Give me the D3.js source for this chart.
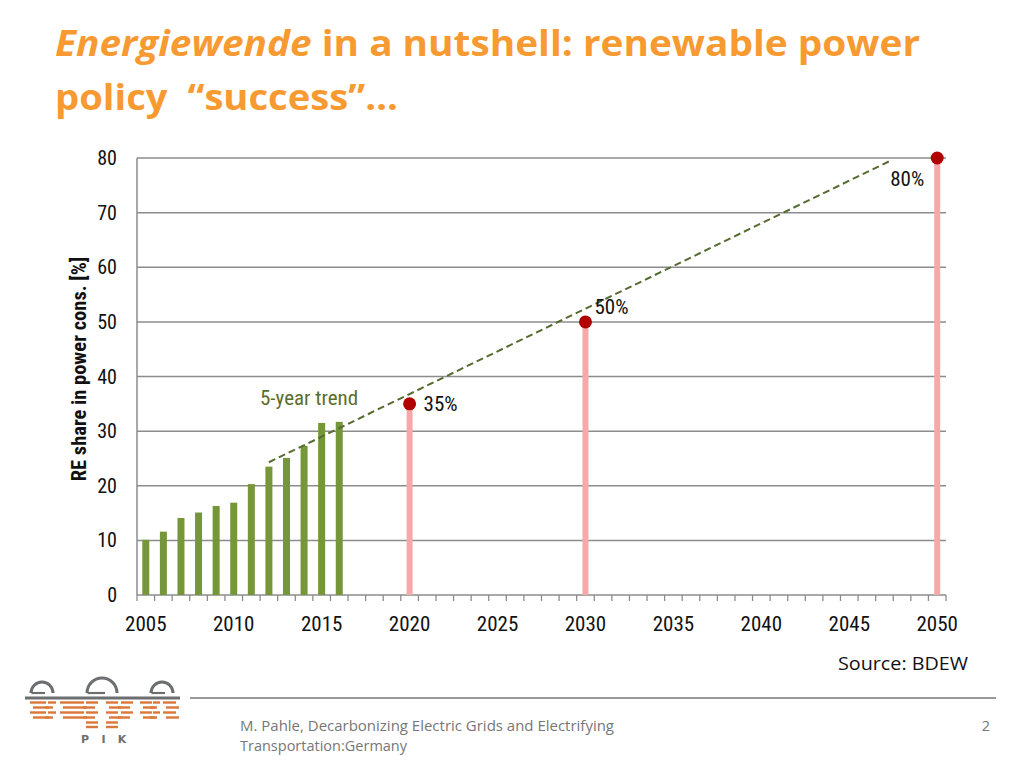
<!DOCTYPE html>
<html><head><meta charset="utf-8">
<script src="https://cdn.jsdelivr.net/npm/d3@7"></script>
<style>
html,body{margin:0;padding:0;background:#fff;}
svg{display:block;}
</style></head>
<body>
<script>
// ---- data ----
const years = [2005,2006,2007,2008,2009,2010,2011,2012,2013,2014,2015,2016];
const shares = [10.1,11.6,14.1,15.1,16.3,16.9,20.3,23.5,25.1,27.3,31.5,31.7];
const targetYears = [2020,2030,2050];
const targetValues = [35,50,80];
const targetLabels = ["35%","50%","80%"];
const trendYears = [2012,2047.4];
const trendValues = [24.3,79.6];
const xTickLabels = [2005,2010,2015,2020,2025,2030,2035,2040,2045,2050];
const yTickLabels = [0,10,20,30,40,50,60,70,80];

const W=1024,H=768;
const svg=d3.select("body").append("svg").attr("width",W).attr("height",H);
const cond = "'Liberation Sans Narrow','Roboto Condensed','DejaVu Sans Condensed','Roboto',sans-serif";
const body = "'Open Sans',sans-serif";

const x=d3.scaleLinear().domain([2004.5,2050.5]).range([137,946]);
const y=d3.scaleLinear().domain([0,80]).range([595,158]);

// title
const t1=svg.append("text").attr("x",55).attr("y",56).attr("fill","#f79a32")
  .attr("font-family",body).attr("font-weight","bold").attr("font-size",36)
  .attr("textLength",865).attr("lengthAdjust","spacingAndGlyphs");
t1.append("tspan").attr("font-style","italic").text("Energiewende");
t1.append("tspan").text(" in a nutshell: renewable power");
svg.append("text").attr("x",55).attr("y",110).attr("fill","#f79a32")
  .attr("font-family",body).attr("font-weight","bold").attr("font-size",36)
  .style("white-space","pre")
  .attr("textLength",343).attr("lengthAdjust","spacingAndGlyphs")
  .text("policy  \u201csuccess\u201d\u2026");

// gridlines
svg.append("g").selectAll("line").data(yTickLabels).join("line")
  .attr("x1",137).attr("x2",946).attr("y1",d=>y(d)).attr("y2",d=>y(d))
  .attr("stroke","#8c8c8c").attr("stroke-width",1.5);
// y axis line
svg.append("line").attr("x1",137).attr("x2",137).attr("y1",y(80)).attr("y2",y(0))
  .attr("stroke","#8c8c8c").attr("stroke-width",1.5);
// x minor ticks
svg.append("g").selectAll("line").data(d3.range(2004.5,2051,1)).join("line")
  .attr("x1",d=>x(d)).attr("x2",d=>x(d)).attr("y1",y(0)).attr("y2",y(0)+6)
  .attr("stroke","#8c8c8c").attr("stroke-width",1.3);

// y tick labels
svg.append("g").selectAll("text").data(yTickLabels).join("text")
  .attr("x",117).attr("y",d=>y(d)).attr("dy","0.35em").attr("text-anchor","end")
  .attr("font-family",cond).attr("font-size",20).attr("fill","#111").text(d=>d);
// x tick labels
svg.append("g").selectAll("text").data(xTickLabels).join("text")
  .attr("x",d=>x(d)).attr("y",631).attr("text-anchor","middle")
  .attr("font-family",cond).attr("font-size",21).attr("fill","#111").text(d=>d);

// y axis title
svg.append("text").attr("transform","translate(86,369) rotate(-90)").attr("text-anchor","middle")
  .attr("font-family",cond).attr("font-weight","bold").attr("font-size",20.5).attr("fill","#111")
  .text("RE share in power cons. [%]");

// historical bars
const bw=7;
svg.append("g").selectAll("rect").data(years).join("rect")
  .attr("x",d=>x(d)-bw/2).attr("width",bw)
  .attr("y",(d,i)=>y(shares[i])).attr("height",(d,i)=>y(0)-y(shares[i]))
  .attr("fill","#76963a");

// target bars
svg.append("g").selectAll("rect").data(targetYears).join("rect")
  .attr("x",d=>x(d)-3).attr("width",6)
  .attr("y",(d,i)=>y(targetValues[i])).attr("height",(d,i)=>y(0)-y(targetValues[i]))
  .attr("fill","#f7a8a8");

// trend line
svg.append("line").attr("x1",x(trendYears[0])).attr("y1",y(trendValues[0]))
  .attr("x2",x(trendYears[1])).attr("y2",y(trendValues[1]))
  .attr("stroke","#556b2f").attr("stroke-width",2).attr("stroke-dasharray","7,4");

// target dots
svg.append("g").selectAll("circle").data(targetYears).join("circle")
  .attr("cx",d=>x(d)).attr("cy",(d,i)=>y(targetValues[i])).attr("r",6.5)
  .attr("fill","#b00000");

// target labels
const lblOff=[[14,0],[9,-15],[-47,21]];
svg.append("g").selectAll("text").data(targetYears).join("text")
  .attr("x",(d,i)=>x(d)+lblOff[i][0]).attr("y",(d,i)=>y(targetValues[i])+lblOff[i][1])
  .attr("dy","0.35em").attr("font-family",cond).attr("font-size",21).attr("fill","#111")
  .text((d,i)=>targetLabels[i]);

// 5-year trend label
svg.append("text").attr("x",260).attr("y",405).attr("font-family",cond).attr("font-size",21)
  .attr("fill","#5a6e2d").text("5-year trend");

// source
svg.append("text").attr("x",838).attr("y",670)
  .attr("font-family",body).attr("font-size",18).attr("fill","#111")
  .attr("textLength",130).attr("lengthAdjust","spacingAndGlyphs")
  .text("Source: BDEW");

// footer
svg.append("line").attr("x1",190).attr("x2",996).attr("y1",698).attr("y2",698)
  .attr("stroke","#999").attr("stroke-width",2);
const ft=svg.append("text").attr("font-family",body).attr("font-size",14.5).attr("fill","#777");
ft.append("tspan").attr("x",240).attr("y",731).attr("textLength",374).attr("lengthAdjust","spacingAndGlyphs")
  .text("M. Pahle, Decarbonizing Electric Grids and Electrifying");
ft.append("tspan").attr("x",240).attr("y",751).text("Transportation:Germany");
svg.append("text").attr("x",990).attr("y",731).attr("text-anchor","end")
  .attr("font-family",body).attr("font-size",14.5).attr("fill","#777").text("2");

// PIK logo
const grey="#6d6e70", orange="#d9783a";
const logo=svg.append("g");
logo.append("line").attr("x1",25).attr("x2",180).attr("y1",698).attr("y2",698).attr("stroke",grey).attr("stroke-width",2.8);
const domes=[[42,12.5],[102,16.5],[162,12.5]];
domes.forEach(([cx,r])=>{
  logo.append("path").attr("d",d3.arc()({innerRadius:r-3,outerRadius:r,startAngle:-Math.PI/2,endAngle:Math.PI/2}))
    .attr("transform",`translate(${cx},693)`).attr("fill",grey);
  logo.append("line").attr("x1",cx-r+2).attr("x2",cx+3).attr("y1",693).attr("y2",693).attr("stroke",grey).attr("stroke-width",2.2);
});
const rows=[702.5,707.5,712.5,717.5];
const cols=[[30,46],[48,56],[60,84],[86,98],[106,118],[121,133],[140,152],[153,160],[163,176]];
rows.forEach((ry,ri)=>{
  cols.forEach(([a,b],si)=>{
    const shift=(ri%2)*((si%2)?-3:3);
    logo.append("rect").attr("x",a+shift).attr("y",ry-1.2).attr("width",b-a).attr("height",2.4).attr("fill",orange);
  });
});
[722.5,727].forEach(ry=>{
  [[86,98],[106,118]].forEach(([a,b])=>logo.append("rect").attr("x",a).attr("y",ry-1.2).attr("width",b-a).attr("height",2.4).attr("fill",orange));
});
["P","I","K"].forEach((c,i)=>logo.append("text").attr("x",85+i*18.5).attr("y",743).attr("text-anchor","middle")
  .attr("font-family","'DejaVu Sans',sans-serif").attr("font-weight","bold").attr("font-size",11).attr("fill",grey).text(c));
</script>
</body></html>
